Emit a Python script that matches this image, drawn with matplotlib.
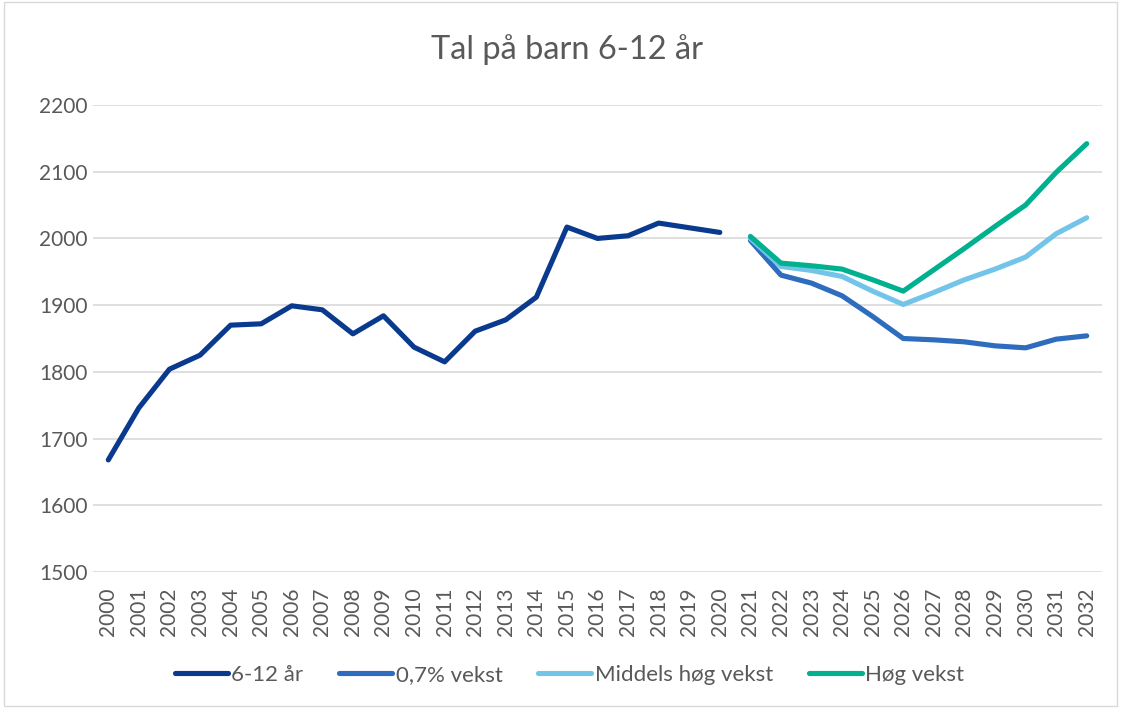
import matplotlib
matplotlib.use("Agg")
import matplotlib.pyplot as plt
from matplotlib.patches import Rectangle

years = list(range(2000, 2033))
year_labels = [str(y) for y in years]

hist_years = list(range(2000, 2021))
barn_6_12 = [1668, 1746, 1804, 1825, 1870, 1872, 1899, 1893, 1857, 1884,
             1837, 1815, 1861, 1878, 1912, 2017, 2000, 2004, 2023, 2016, 2009]

proj_years = list(range(2021, 2033))
vekst_07 = [1997, 1945, 1933, 1914, 1883, 1850, 1848, 1845, 1839, 1836, 1849, 1854]
middels = [2000, 1958, 1952, 1943, 1921, 1901, 1919, 1938, 1954, 1972, 2007, 2031]
hog = [2003, 1963, 1959, 1954, 1938, 1921, 1953, 1985, 2018, 2050, 2099, 2142]

y_ticks = [1500, 1600, 1700, 1800, 1900, 2000, 2100, 2200]

plt.rcParams['font.family'] = ['Lato', 'DejaVu Sans']
txt = '#595959'

fig = plt.figure(figsize=(11.21, 7.08), dpi=100)
ax = fig.add_axes([93/1121, 1 - 572/708, (1102-93)/1121, (572-105)/708])

fig.patches.append(Rectangle((0.004, 0.003), 0.992, 0.994, transform=fig.transFigure,
                             fill=False, edgecolor='#d9d9d9', linewidth=1))

idx = {y: i for i, y in enumerate(years)}
lw = 3.7
ax.plot([idx[y] for y in hist_years], barn_6_12, color='#0a3a8e', lw=lw,
        solid_capstyle='round', solid_joinstyle='round', label='6-12 år')
ax.plot([idx[y] for y in proj_years], vekst_07, color='#2e6cbe', lw=lw,
        solid_capstyle='round', solid_joinstyle='round', label='0,7% vekst')
ax.plot([idx[y] for y in proj_years], middels, color='#72c5e9', lw=lw,
        solid_capstyle='round', solid_joinstyle='round', label='Middels høg vekst')
ax.plot([idx[y] for y in proj_years], hog, color='#00b08f', lw=lw,
        solid_capstyle='round', solid_joinstyle='round', label='Høg vekst')

ax.set_xlim(-0.5, len(years) - 0.5)
ax.set_ylim(1500, 2200)
ax.set_yticks(y_ticks)
ax.set_xticks(range(len(years)))
ax.set_xticklabels(year_labels, rotation=90, fontsize=15, color=txt)
ax.tick_params(axis='y', labelsize=15, colors=txt, length=0, pad=4)
ax.tick_params(axis='x', length=0, pad=11)
ax.grid(axis='y', color='#d9d9d9', lw=1.2)
ax.set_axisbelow(True)
for s in ax.spines.values():
    s.set_visible(False)

fig.text(0.506, 1 - 50/708, 'Tal på barn 6-12 år', ha='center', va='center',
         fontsize=23.5, color=txt)

fig.legend(loc='center', bbox_to_anchor=(0.508, 1 - 675/708), ncol=4, frameon=False,
           fontsize=16, labelcolor=txt, handlelength=2.4, handletextpad=0.15,
           columnspacing=1.6)

fig.savefig('out.png', dpi=100)
